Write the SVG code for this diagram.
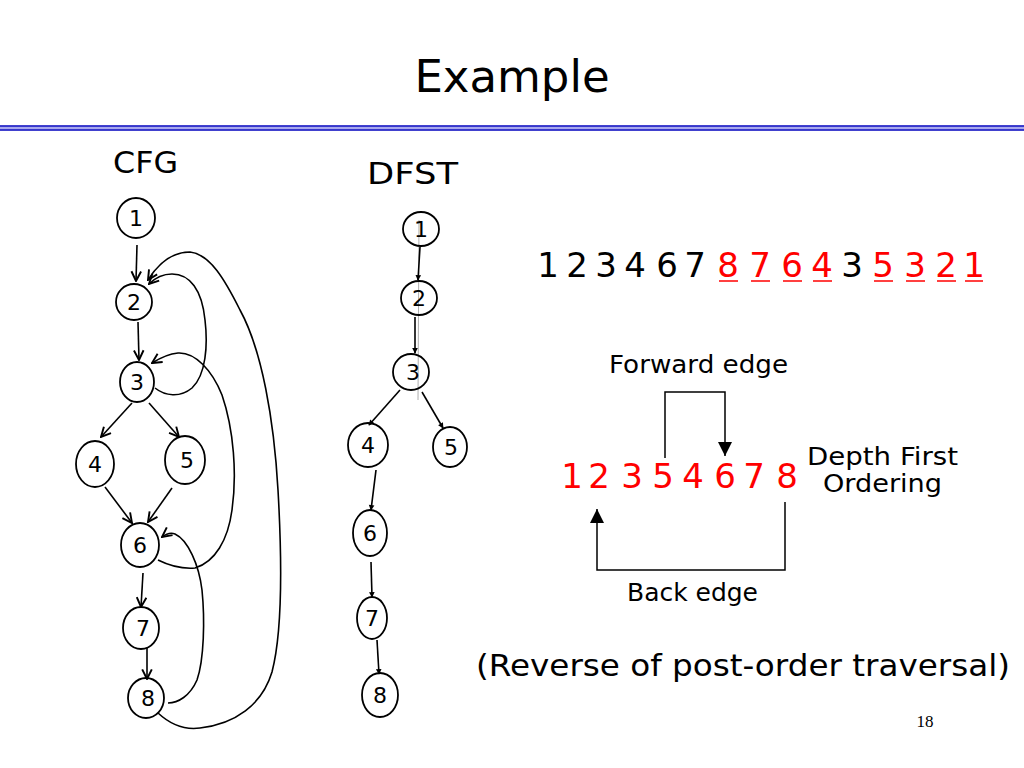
<svg xmlns="http://www.w3.org/2000/svg" width="1024" height="768" viewBox="0 0 1024 768">
<defs>
<style>
.t{font-family:"DejaVu Sans","Noto Sans",sans-serif;fill:#000}
.r{fill:#ff0000}
.n{fill:none;stroke:#000;stroke-width:1.8}
.nl{font-family:"DejaVu Sans","Noto Sans",sans-serif;font-size:22px;fill:#000;text-anchor:middle}
.e{fill:none;stroke:#000;stroke-width:1.6}
.c{fill:none;stroke:#000;stroke-width:1.5}
.u{stroke:#ff0000;stroke-width:1.5}
.d{font-size:34px;text-anchor:middle}
</style>
<marker id="va" markerUnits="userSpaceOnUse" markerWidth="12" markerHeight="12" refX="9" refY="5" orient="auto" viewBox="0 0 10 10">
<path d="M1,1 L9,5 L1,9" fill="none" stroke="#000" stroke-width="1.6"/>
</marker>
<marker id="dt" markerUnits="userSpaceOnUse" markerWidth="7" markerHeight="7" refX="8" refY="5" orient="auto" viewBox="0 0 10 10">
<path d="M1,1 L9,5 L1,9 Z" fill="#000"/>
</marker>
<marker id="fa" markerUnits="userSpaceOnUse" markerWidth="14" markerHeight="14" refX="10" refY="5" orient="auto" viewBox="0 0 10 10">
<path d="M0,0 L10,5 L0,10 Z" fill="#000"/>
</marker>
</defs>
<rect width="1024" height="768" fill="#fff"/>

<text class="t" x="512" y="92" font-size="45" text-anchor="middle">Example</text>
<rect x="0" y="125.5" width="1024" height="5" fill="#a8a8ee"/>
<line x1="0" y1="126" x2="1024" y2="126" stroke="#1010c0" stroke-width="1.6"/>
<line x1="0" y1="130" x2="1024" y2="130" stroke="#1010c0" stroke-width="1.6"/>

<text class="t" x="113" y="173" font-size="31" textLength="65" lengthAdjust="spacingAndGlyphs">CFG</text>
<text class="t" x="367" y="184" font-size="31" textLength="91" lengthAdjust="spacingAndGlyphs">DFST</text>

<g id="cfg-connectors">
<path class="e" d="M137,245 L136,281" marker-end="url(#va)"/>
<path class="e" d="M138,322 L139,360" marker-end="url(#va)"/>
<path class="e" d="M132,403 L101,437" marker-end="url(#va)"/>
<path class="e" d="M149,403 L179,437" marker-end="url(#va)"/>
<path class="e" d="M105,487 L132,523" marker-end="url(#va)"/>
<path class="e" d="M172,488 L148,522" marker-end="url(#va)"/>
<path class="e" d="M143,573 L141,607" marker-end="url(#va)"/>
<path class="e" d="M147,648 L147,679" marker-end="url(#va)"/>
<path class="e" d="M155,388 C165,396 180,398 192,388 C206,375 208,345 205,320 C202,290 190,274 172,274 C162,274 154,279 149,284" marker-end="url(#va)"/>
<path class="e" d="M158,713 C172,726 185,730 200,728 C235,724 262,705 272,672 C283,630 282,560 278,490 C274,420 262,350 240,310 C225,280 210,254 190,252 C172,252 158,264 148,280" marker-end="url(#va)"/>
<path class="e" d="M158,560 C170,566 182,569 195,568 C215,562 228,540 232,510 C237,475 234,430 222,395 C212,370 195,352 178,353 C168,354 160,358 152,363" marker-end="url(#va)"/>
<path class="e" d="M168,703 C178,703 190,696 197,680 C204,660 205,620 202,590 C199,565 188,540 175,534 C170,532 166,534 162,537" marker-end="url(#va)"/>
</g>

<g id="cfg-n1"><ellipse class="n" cx="136" cy="218" rx="19" ry="20"/><text class="nl" x="136" y="226">1</text></g>
<g id="cfg-n2"><ellipse class="n" cx="134" cy="302" rx="18" ry="18"/><text class="nl" x="134" y="310">2</text></g>
<g id="cfg-n3"><ellipse class="n" cx="137" cy="382" rx="17" ry="20"/><text class="nl" x="137" y="390">3</text></g>
<g id="cfg-n4"><ellipse class="n" cx="95" cy="464" rx="19" ry="23"/><text class="nl" x="95" y="472">4</text></g>
<g id="cfg-n5"><ellipse class="n" cx="185" cy="460" rx="20" ry="24"/><text class="nl" x="187" y="468">5</text></g>
<g id="cfg-n6"><ellipse class="n" cx="140" cy="545" rx="19" ry="22"/><text class="nl" x="140" y="553">6</text></g>
<g id="cfg-n7"><ellipse class="n" cx="141" cy="628" rx="18" ry="21"/><text class="nl" x="143" y="636">7</text></g>
<g id="cfg-n8"><ellipse class="n" cx="146" cy="698" rx="18" ry="20"/><text class="nl" x="148" y="706">8</text></g>

<line x1="419" y1="220" x2="418" y2="400" stroke="#999" stroke-width="0.8"/>
<g id="dfst-connectors">
<path class="e" d="M420,247 L418,280" marker-end="url(#dt)"/>
<path class="e" d="M415,317 L415,353" marker-end="url(#dt)"/>
<path class="e" d="M400,390 L369,425" marker-end="url(#dt)"/>
<path class="e" d="M422,392 L443,428" marker-end="url(#dt)"/>
<path class="e" d="M376,470 L371,510" marker-end="url(#dt)"/>
<path class="e" d="M371,562 L372,597" marker-end="url(#dt)"/>
<path class="e" d="M377,640 L379,674" marker-end="url(#dt)"/>
</g>

<g id="dfst-n1"><ellipse class="n" cx="421" cy="229" rx="18" ry="17"/><text class="nl" x="421" y="237">1</text></g>
<g id="dfst-n2"><ellipse class="n" cx="419" cy="298" rx="18" ry="17"/><text class="nl" x="419" y="306">2</text></g>
<g id="dfst-n3"><ellipse class="n" cx="411" cy="372" rx="18" ry="18"/><text class="nl" x="413" y="380">3</text></g>
<g id="dfst-n4"><ellipse class="n" cx="368" cy="445" rx="20" ry="22"/><text class="nl" x="368" y="453">4</text></g>
<g id="dfst-n5"><ellipse class="n" cx="450" cy="447" rx="17" ry="20"/><text class="nl" x="451" y="455">5</text></g>
<g id="dfst-n6"><ellipse class="n" cx="370" cy="533" rx="17" ry="23"/><text class="nl" x="370" y="541">6</text></g>
<g id="dfst-n7"><ellipse class="n" cx="372" cy="618" rx="15" ry="21"/><text class="nl" x="372" y="626">7</text></g>
<g id="dfst-n8"><ellipse class="n" cx="380" cy="695" rx="18" ry="22"/><text class="nl" x="380" y="703">8</text></g>

<g id="sequence">
<text class="t d" x="548" y="277">1</text>
<text class="t d" x="577" y="277">2</text>
<text class="t d" x="606" y="277">3</text>
<text class="t d" x="635" y="277">4</text>
<text class="t d" x="667" y="277">6</text>
<text class="t d" x="695" y="277">7</text>
<text class="t d r" x="728" y="277">8</text>
<text class="t d r" x="760" y="277">7</text>
<text class="t d r" x="792" y="277">6</text>
<text class="t d r" x="822" y="277">4</text>
<text class="t d" x="852" y="277">3</text>
<text class="t d r" x="883" y="277">5</text>
<text class="t d r" x="915" y="277">3</text>
<text class="t d r" x="946" y="277">2</text>
<text class="t d r" x="974" y="277">1</text>
</g>
<g id="underlines">
<line class="u" x1="719" y1="281" x2="738" y2="281"/>
<line class="u" x1="751" y1="281" x2="770" y2="281"/>
<line class="u" x1="783" y1="281" x2="802" y2="281"/>
<line class="u" x1="813" y1="281" x2="832" y2="281"/>
<line class="u" x1="874" y1="281" x2="893" y2="281"/>
<line class="u" x1="906" y1="281" x2="925" y2="281"/>
<line class="u" x1="937" y1="281" x2="956" y2="281"/>
<line class="u" x1="965" y1="281" x2="983" y2="281"/>
</g>

<text class="t" x="609" y="373" font-size="24" textLength="179" lengthAdjust="spacingAndGlyphs">Forward edge</text>

<g id="ordering">
<text class="t d r" x="572" y="488">1</text>
<text class="t d r" x="599" y="488">2</text>
<text class="t d r" x="632" y="488">3</text>
<text class="t d r" x="663" y="488">5</text>
<text class="t d r" x="693" y="488">4</text>
<text class="t d r" x="725" y="488">6</text>
<text class="t d r" x="754" y="488">7</text>
<text class="t d r" x="787" y="488">8</text>
</g>
<g id="edge-connectors">
<polyline class="c" points="665,458 665,392 725,392 725,456" marker-end="url(#fa)"/>
<polyline class="c" points="785,502 785,570 597,570 597,509" marker-end="url(#fa)"/>
</g>

<text class="t" x="807" y="465" font-size="24" textLength="151" lengthAdjust="spacingAndGlyphs">Depth First</text>
<text class="t" x="823" y="492" font-size="24" textLength="119" lengthAdjust="spacingAndGlyphs">Ordering</text>
<text class="t" x="627" y="601" font-size="24" textLength="131" lengthAdjust="spacingAndGlyphs">Back edge</text>
<text class="t" x="476" y="676" font-size="30" textLength="534" lengthAdjust="spacingAndGlyphs">(Reverse of post-order traversal)</text>
<text x="925" y="727" font-family="Liberation Serif,serif" font-size="17" text-anchor="middle">18</text>
</svg>
